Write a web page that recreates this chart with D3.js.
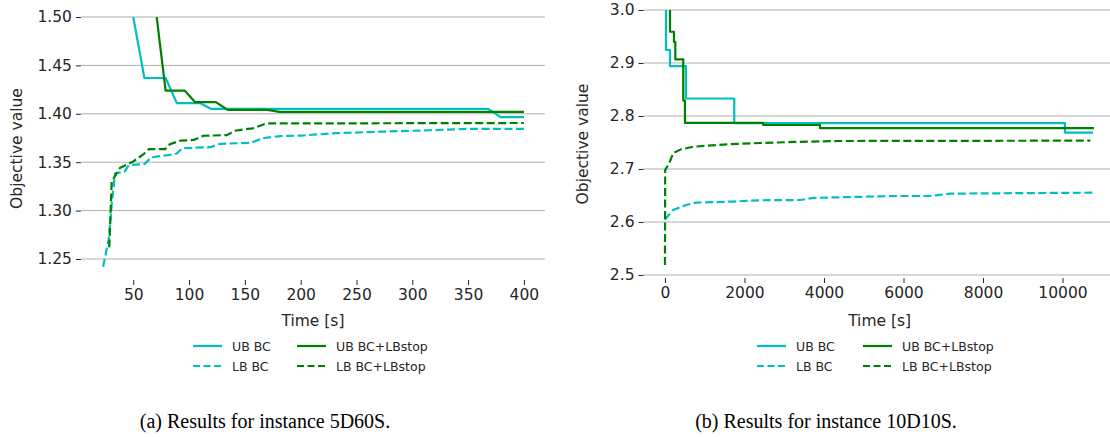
<!DOCTYPE html>
<html><head><meta charset="utf-8">
<script src="https://cdn.jsdelivr.net/npm/d3@7"></script>
<style>body{margin:0;background:#fff}svg{display:block}</style>
</head><body>
<svg id="c" width="1110" height="437"></svg>
<script>
// ---------- data ----------
const seriesNames = ["UB BC", "LB BC", "UB BC+LBstop", "LB BC+LBstop"];
const captions = ["(a) Results for instance 5D60S.", "(b) Results for instance 10D10S."];
const axisLabelX = "Time [s]";
const axisLabelY = "Objective value";

// Left panel (5D60S)
const leftXTicks = [50, 100, 150, 200, 250, 300, 350, 400];
const leftYTicks = [1.25, 1.30, 1.35, 1.40, 1.45, 1.50];
const left_UB_BC = [[50,1.50],[60,1.437],[79,1.437],[89,1.411],[110,1.411],[120,1.405],[368,1.405],[379,1.3965],[400,1.3965]];
const left_LB_BC = [[23,1.242],[28,1.27],[31,1.31],[33.7,1.3385],[42,1.34],[46,1.347],[60,1.348],[66,1.355],[86,1.358],[89,1.359],[94,1.3645],[119,1.3655],[128,1.369],[155,1.370],[167,1.375],[182,1.377],[200,1.3775],[232,1.380],[271,1.3815],[316,1.383],[352,1.3845],[400,1.3845]];
const left_UB_LBstop = [[71,1.50],[79,1.424],[96,1.424],[105.5,1.412],[124,1.412],[134.6,1.404],[170,1.404],[181,1.402],[400,1.402]];
const left_LB_LBstop = [[28.5,1.262],[30.7,1.33],[38,1.344],[50,1.3508],[59,1.358],[64,1.3635],[78.5,1.3635],[83,1.3687],[92,1.3722],[104,1.373],[113,1.3773],[134,1.378],[141,1.3825],[157,1.385],[169,1.390],[400,1.3905]];

// Right panel (10D10S)
const rightXTicks = [0, 2000, 4000, 6000, 8000, 10000];
const rightYTicks = [2.5, 2.6, 2.7, 2.8, 2.9, 3.0];
const right_UB_BC = [[25,3.05],[26,2.9245],[126,2.894],[528,2.833],[1743,2.7865],[10060,2.7685],[10770,2.7685]];
const right_LB_BC = [[0,2.604],[60,2.61],[210,2.6226],[528,2.632],[780,2.6365],[1710,2.6385],[2390,2.641],[3400,2.6415],[3740,2.6455],[5830,2.649],[6670,2.649],[7170,2.6535],[10770,2.6553]];
const right_UB_LBstop = [[126,3.05],[127,2.959],[226,2.94],[260,2.907],[460,2.829],[503,2.787],[2470,2.783],[3900,2.777],[10790,2.777]];
const right_LB_LBstop = [[0,2.519],[5,2.698],[100,2.71],[210,2.73],[400,2.737],[712,2.742],[1550,2.7465],[2390,2.749],[3230,2.751],[4400,2.7528],[10700,2.7535]];

// ---------- styles ----------
const CYAN = "#00bfbf", GREEN = "#008000";
const styles = [
  {color: CYAN, dash: null},
  {color: CYAN, dash: "8,3.5"},
  {color: GREEN, dash: null},
  {color: GREEN, dash: "8,3.5"}
];
const FONT = "DejaVu Sans, sans-serif";
const svg = d3.select("#c");

function panel(cfg) {
  const x = d3.scaleLinear().domain(cfg.xDomain).range(cfg.xRange);
  const y = d3.scaleLinear().domain(cfg.yDomain).range(cfg.yRange);
  const g = svg.append("g");
  const [x0, x1] = cfg.xRange, [yb, yt] = cfg.yRange;

  // grid
  g.append("g").selectAll("line").data(cfg.yTicks).join("line")
    .attr("x1", x0).attr("x2", x1)
    .attr("y1", d => y(d)).attr("y2", d => y(d))
    .attr("stroke", "#b0b0b0").attr("stroke-width", 1);

  // y axis
  const ya = g.append("g").attr("transform", `translate(${x0},0)`)
    .call(d3.axisLeft(y).tickValues(cfg.yTicks).tickFormat(cfg.yFmt).tickSize(5).tickPadding(4));
  ya.select(".domain").remove();
  ya.selectAll("text").attr("font-family", FONT).attr("font-size", 15.5).attr("fill", "#262626");
  ya.selectAll("line").attr("stroke", "#262626");

  // x axis
  const xa = g.append("g").attr("transform", `translate(0,${yb})`)
    .call(d3.axisBottom(x).tickValues(cfg.xTicks).tickFormat(d3.format("d")).tickSize(5).tickPadding(4));
  xa.select(".domain").remove();
  xa.selectAll("text").attr("font-family", FONT).attr("font-size", 15.5).attr("fill", "#262626");
  xa.selectAll("line").attr("stroke", "#262626");

  // clip
  const id = "clip" + cfg.id;
  svg.append("clipPath").attr("id", id).append("rect")
    .attr("x", x0).attr("y", yt).attr("width", x1 - x0).attr("height", yb - yt);

  const line = d3.line().x(d => x(d[0])).y(d => y(d[1])).curve(cfg.curveUB);
  const lineLB = d3.line().x(d => x(d[0])).y(d => y(d[1])).curve(d3.curveLinear);
  const lg = g.append("g").attr("clip-path", `url(#${id})`);
  cfg.series.forEach((s, i) => {
    const gen = (i % 2 === 0) ? line : lineLB;
    lg.append("path").attr("d", gen(s)).attr("fill", "none")
      .attr("stroke", styles[i].color).attr("stroke-width", 2.2)
      .attr("stroke-dasharray", styles[i].dash).attr("stroke-linejoin", "round");
  });

  // labels
  g.append("text").attr("x", (x0 + x1) / 2).attr("y", 326).attr("text-anchor", "middle")
    .attr("font-family", FONT).attr("font-size", 15.5).attr("fill", "#262626").text(axisLabelX);
  g.append("text").attr("transform", `translate(${cfg.ylabX},${(yb + yt) / 2}) rotate(-90)`)
    .attr("text-anchor", "middle").attr("font-family", FONT).attr("font-size", 15.5)
    .attr("fill", "#262626").text(axisLabelY);

  // legend
  const cols = [[0, 2], [1, 3]];
  const lgX = cfg.legendX, colW = cfg.legendColW;
  [[0, 0], [1, 0], [2, 1], [3, 1]].forEach(([i, c]) => {
    const row = i % 2;
    const lx = lgX + c * colW, ly = 346 + row * 20;
    g.append("line").attr("x1", lx).attr("x2", lx + 29).attr("y1", ly).attr("y2", ly)
      .attr("stroke", styles[i].color).attr("stroke-width", 2.2)
      .attr("stroke-dasharray", styles[i].dash ? "7,3.5" : null);
    g.append("text").attr("x", lx + 39).attr("y", ly + 4.5)
      .attr("font-family", FONT).attr("font-size", 12.5).attr("fill", "#262626")
      .text(seriesNames[i]);
  });

  // caption
  svg.append("text").attr("x", cfg.capX).attr("y", 428).attr("text-anchor", "middle")
    .attr("font-family", "Liberation Serif, serif").attr("font-size", 20).attr("fill", "#000")
    .text(cfg.caption);
}

panel({
  id: "L",
  xDomain: [3.1, 418.9], xRange: [80.9, 545],
  yDomain: [1.2283, 1.50], yRange: [280, 17],
  xTicks: leftXTicks, yTicks: leftYTicks, yFmt: d3.format(".2f"),
  curveUB: d3.curveLinear,
  series: [left_UB_BC, left_LB_BC, left_UB_LBstop, left_LB_LBstop],
  ylabX: 22, legendX: 193, legendColW: 104,
  capX: 265, caption: captions[0]
});
panel({
  id: "R",
  xDomain: [-540, 11340], xRange: [643.5, 1115.8],
  yDomain: [2.4943, 3.0], yRange: [278, 10],
  xTicks: rightXTicks, yTicks: rightYTicks, yFmt: d3.format(".1f"),
  curveUB: d3.curveStepAfter,
  series: [right_UB_BC, right_LB_BC, right_UB_LBstop, right_LB_LBstop],
  ylabX: 588, legendX: 757, legendColW: 106,
  capX: 826, caption: captions[1]
});
</script>
</body></html>
